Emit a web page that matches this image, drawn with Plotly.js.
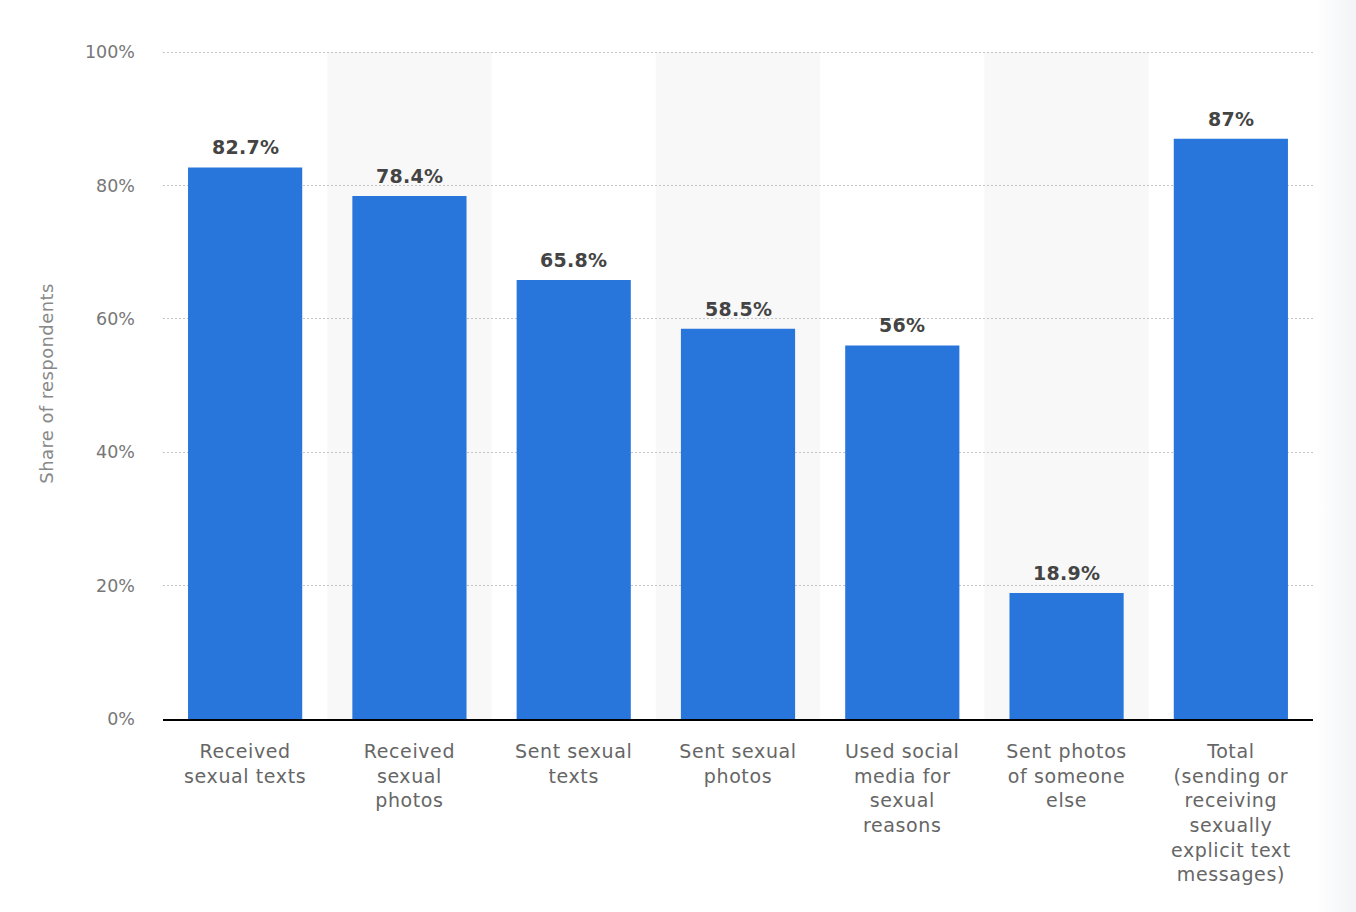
<!DOCTYPE html>
<html>
<head>
<meta charset="utf-8">
<script src="https://cdn.plot.ly/plotly-3.0.1.min.js"></script>
<style>
html,body{margin:0;padding:0;background:#fff;}
#chart{width:1356px;height:912px;}
#edge{position:absolute;top:0;right:0;width:40px;height:912px;pointer-events:none;
background:linear-gradient(to right, rgba(240,242,246,0) 0%, rgba(240,242,246,0.9) 100%);}
.xtick text{letter-spacing:0.6px;}
.annotation-text{letter-spacing:0.3px;}
.ytitle{letter-spacing:0.4px;}
</style>
</head>
<body>
<div id="chart"></div>
<div id="edge"></div>
<script>
const categories = [
  "Received<br>sexual texts",
  "Received<br>sexual<br>photos",
  "Sent sexual<br>texts",
  "Sent sexual<br>photos",
  "Used social<br>media for<br>sexual<br>reasons",
  "Sent photos<br>of someone<br>else",
  "Total<br>(sending or<br>receiving<br>sexually<br>explicit text<br>messages)"
];
const values = [82.7, 78.4, 65.8, 58.5, 56, 18.9, 87];
const labels = values.map(v => v + "%");
const yTicks = [0, 20, 40, 60, 80, 100];
const yTickText = yTicks.map(v => v + "%");

const positions = categories.map((c, i) => i);

const bandShapes = [];
positions.forEach(i => {
  if (i % 2 === 1) {
    bandShapes.push({
      type: "rect", xref: "x", yref: "y", layer: "below",
      x0: i - 0.5, x1: i + 0.5, y0: 0, y1: 100,
      fillcolor: "#f8f8f8", line: {width: 0}
    });
  }
});

const valueAnnotations = positions.map(i => ({
  x: i, y: values[i], xref: "x", yref: "y",
  text: labels[i], showarrow: false,
  yanchor: "bottom", yshift: 7,
  font: {family: "DejaVu Sans, sans-serif", size: 19, color: "#444444", weight: "bold"}
}));

const trace = {
  type: "bar",
  x: positions,
  y: values,
  marker: {color: "#2875dc"},
  hoverinfo: "none"
};

const layout = {
  width: 1356, height: 912,
  margin: {l: 163, r: 43, t: 48, b: 193},
  paper_bgcolor: "#ffffff",
  plot_bgcolor: "rgba(0,0,0,0)",
  bargap: 0.305,
  showlegend: false,
  font: {family: "DejaVu Sans, sans-serif", color: "#666666"},
  xaxis: {
    tickmode: "array",
    tickvals: positions,
    ticktext: categories,
    range: [-0.5, categories.length - 0.5],
    showgrid: false,
    zeroline: false,
    showline: true,
    linecolor: "#000000",
    linewidth: 2,
    ticks: "",
    tickfont: {size: 19, color: "#666666", family: "DejaVu Sans, sans-serif"},
    ticklabelstandoff: 14,
    fixedrange: true
  },
  yaxis: {
    range: [0, 100.6],
    tickmode: "array",
    tickvals: yTicks,
    ticktext: yTickText,
    showgrid: true,
    gridcolor: "#c4c4c4",
    griddash: "2px,2px",
    gridwidth: 1,
    zeroline: false,
    showline: false,
    ticks: "",
    ticklabelstandoff: 27,
    tickfont: {size: 17.5, color: "#777777", family: "DejaVu Sans, sans-serif"},
    title: {text: "Share of respondents", font: {size: 18, color: "#888888", family: "DejaVu Sans, sans-serif"}, standoff: 26},
    fixedrange: true
  },
  shapes: bandShapes,
  annotations: valueAnnotations
};

Plotly.newPlot("chart", [trace], layout, {displayModeBar: false, staticPlot: true});
</script>
</body>
</html>
